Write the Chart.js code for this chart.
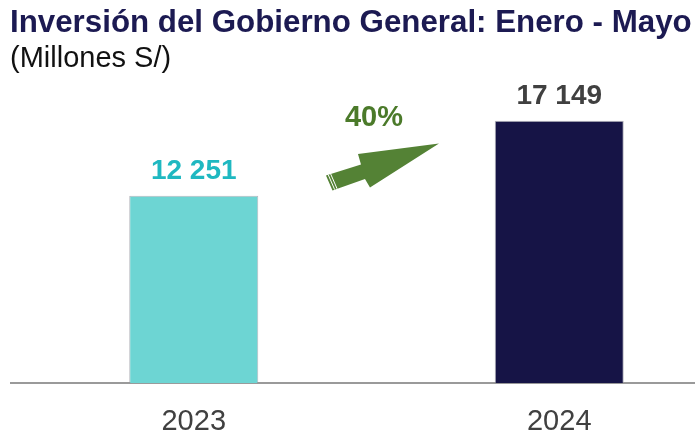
<!DOCTYPE html>
<html>
<head>
<meta charset="utf-8">
<script src="https://cdn.jsdelivr.net/npm/chart.js@4.4.1/dist/chart.umd.min.js"></script>
<style>
  html, body { margin: 0; padding: 0; background: #fff; overflow: hidden; width: 695px; height: 432px; }
  #titulo { position: absolute; left: 10px; top: 6px; font: bold 31.3px "Liberation Sans", Arial, sans-serif; line-height: 1; color: #1c1a52; white-space: nowrap; }
  #subtitulo { position: absolute; left: 10px; top: 43px; font: 29px "Liberation Sans", Arial, sans-serif; line-height: 1; color: #111; white-space: nowrap; }
  #caja { position: absolute; left: 0; top: 0; width: 752px; height: 460px; }
</style>
</head>
<body>
<div id="caja"><canvas id="grafico"></canvas></div>
<div id="titulo">Inversión del Gobierno General: Enero - Mayo</div>
<div id="subtitulo">(Millones S/)</div>
<script>
// datos del gráfico
const anios = ['2023', '2024'];
const inversion = [12251, 17149];
const etiquetas = ['12 251', '17 149'];
const variacion = '40%';

const coloresBarra = ['#6dd5d3', '#161446'];
const coloresEtiqueta = ['#1fb8c1', '#404040'];

// flecha de crecimiento: punto de partida en coordenadas del gráfico
const flechaDesde = { x: 0.37, y: 13050 };

const pluginEtiquetas = {
  id: 'etiquetas',
  afterDatasetsDraw(chart) {
    const ctx = chart.ctx;
    const meta = chart.getDatasetMeta(0);
    ctx.save();
    ctx.font = 'bold 28px "Liberation Sans", Arial, sans-serif';
    ctx.textAlign = 'center';
    ctx.textBaseline = 'alphabetic';
    meta.data.forEach(function (barra, i) {
      ctx.fillStyle = coloresEtiqueta[i];
      ctx.fillText(etiquetas[i], barra.x, barra.y - 17);
    });
    ctx.restore();
  }
};

const pluginFlecha = {
  id: 'flecha',
  afterDatasetsDraw(chart) {
    const ctx = chart.ctx;
    const x0 = chart.scales.x.getPixelForValue(flechaDesde.x);
    const y0 = chart.scales.y.getPixelForValue(flechaDesde.y);
    // forma de la flecha relativa a la cola
    const forma = [
      [-3, -8], [32, -19], [29, -29.5], [110, -40],
      [41, 4], [36, -4.5], [3.5, 7]
    ];
    ctx.save();
    ctx.fillStyle = '#548235';
    ctx.beginPath();
    forma.forEach(function (p, i) {
      if (i === 0) ctx.moveTo(x0 + p[0], y0 + p[1]);
      else ctx.lineTo(x0 + p[0], y0 + p[1]);
    });
    ctx.closePath();
    ctx.fill();
    // rayas blancas de la cola
    ctx.strokeStyle = '#ffffff';
    ctx.lineWidth = 1;
    [2.2, 4.6].forEach(function (d) {
      ctx.beginPath();
      ctx.moveTo(x0 - 3 + d, y0 - 8 - d * 0.35);
      ctx.lineTo(x0 + 3.5 + d, y0 + 7 - d * 0.35);
      ctx.stroke();
    });
    ctx.fillStyle = '#4b7a2a';
    ctx.font = 'bold 29px "Liberation Sans", Arial, sans-serif';
    ctx.textAlign = 'center';
    ctx.textBaseline = 'alphabetic';
    ctx.fillText(variacion, x0 + 45, y0 - 57);
    ctx.restore();
  }
};

const ctx = document.getElementById('grafico').getContext('2d');
const grafico = new Chart(ctx, {
  type: 'bar',
  data: {
    labels: anios,
    datasets: [{
      data: inversion,
      backgroundColor: coloresBarra,
      borderColor: 'rgba(150,150,160,0.7)',
      borderWidth: 1,
      barPercentage: 0.353,
      categoryPercentage: 1
    }]
  },
  options: {
    responsive: true,
    maintainAspectRatio: false,
    animation: false,
    layout: { padding: { top: 77, left: 11, right: 10, bottom: 0 } },
    plugins: {
      legend: { display: false },
      tooltip: { enabled: false }
    },
    scales: {
      x: {
        grid: { display: false, drawTicks: false },
        border: { display: true, color: '#9a9a9a', width: 2 },
        ticks: {
          color: '#404040',
          padding: 21,
          font: { family: '"Liberation Sans", Arial, sans-serif', size: 29 }
        }
      },
      y: {
        display: false,
        min: 0,
        max: 20000
      }
    }
  },
  plugins: [pluginEtiquetas, pluginFlecha]
});
</script>
</body>
</html>
